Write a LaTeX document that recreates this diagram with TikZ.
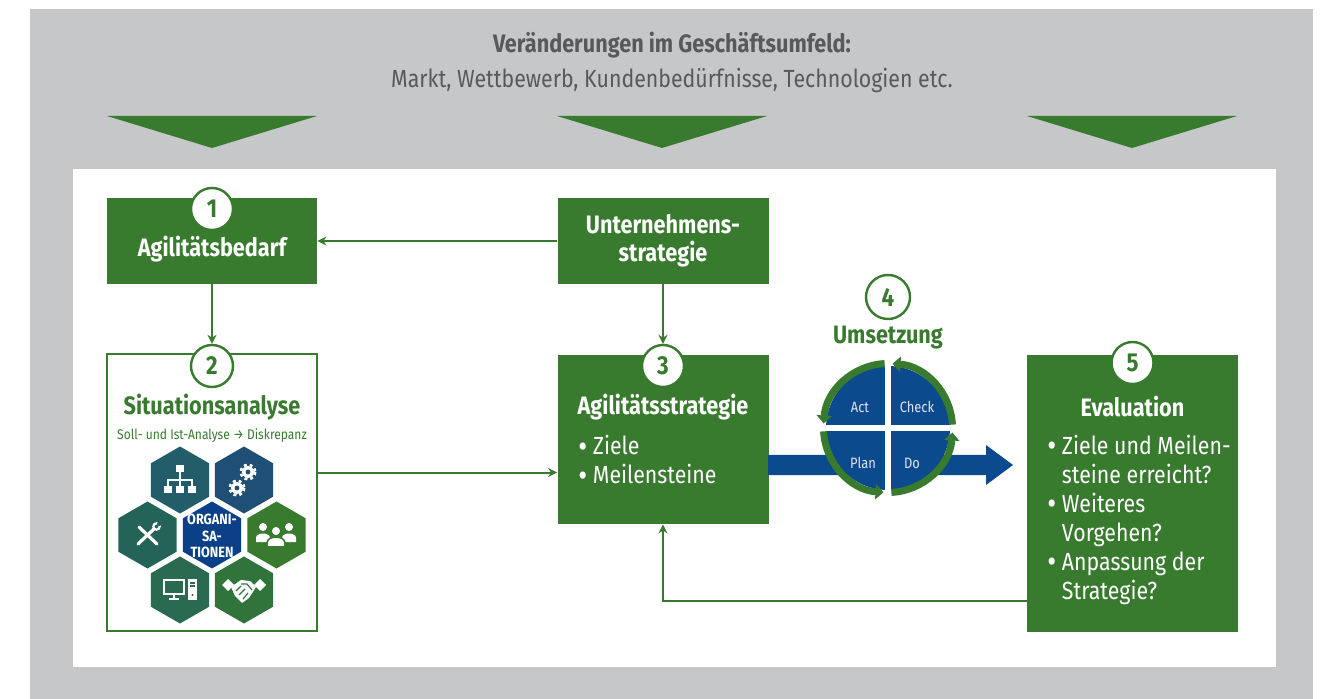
\documentclass[tikz,border=0pt]{standalone}
\usepackage{fontspec}
\setmainfont{Fira Sans}[FakeStretch=0.86]
\usetikzlibrary{arrows.meta, shapes.geometric}
\definecolor{agreen}{HTML}{387B2E}
\definecolor{agrey}{HTML}{C6C7C9}
\definecolor{atext}{HTML}{58595B}
\definecolor{pdblue}{HTML}{0B4A8C}
\definecolor{pdlight}{HTML}{DFE4F0}
\definecolor{hxorg}{HTML}{245D6A}
\definecolor{hxgear}{HTML}{1F4F74}
\definecolor{hxtool}{HTML}{246458}
\definecolor{hxmid}{HTML}{0B3F87}
\definecolor{hxteam}{HTML}{387A2E}
\definecolor{hxit}{HTML}{2A6A50}
\definecolor{hxdeal}{HTML}{30743C}
\newcommand{\bul}{\raisebox{-1.3pt}{\fontsize{16}{14.5}\selectfont•}}

\begin{document}
\begin{tikzpicture}[x = 0.5pt, y = -0.5pt,
	gbox/.style = {fill = agreen, draw = none, inner sep = 0pt},
	numc/.style = {circle, draw = agreen, line width = 1.2pt, fill = white, minimum size = 21pt, inner sep = 0pt, text = agreen, font = \bfseries\fontsize{13}{13}\selectfont},
	title/.style = {text = white, font = \bfseries\fontsize{12.6}{14}\selectfont},
	body/.style = {text = white, font = \fontsize{12.4}{14.5}\selectfont, align = left, anchor = west, inner sep = 0pt},
	conn/.style = {agreen, line width = 1pt, -{Stealth[length = 4.5pt, width = 4.5pt]}},
	hexa/.style = {regular polygon, regular polygon sides = 6, shape border rotate = 30, minimum size = 33.5pt, inner sep = 0pt, draw = none},
	ring/.style = {agreen, line width = 3.5pt, -{Triangle[length = 4pt, width = 7.5pt]}},
	pdtext/.style = {text = pdlight, font = \fontsize{7.5}{7.5}\selectfont}]
	\useasboundingbox (0, 0) rectangle (1326, 699);
	% background
	\fill[white] (0, 0) rectangle (1326, 699);
	\fill[agrey] (30, 9) rectangle (1313, 699);
	\fill[white] (73, 169) rectangle (1276, 667);
	\node[text = atext, font = \bfseries\fontsize{12.6}{14}\selectfont] (hd1) at (672, 45) {Veränderungen im Geschäftsumfeld:};
	\node[text = atext, font = \fontsize{12.4}{14}\selectfont] (hd2) at (672, 80) {Markt, Wettbewerb, Kundenbedürfnisse, Technologien etc.};
	\fill[agreen] (107, 116) -- (317, 116) -- (212, 148) -- cycle;
	\fill[agreen] (557, 116) -- (767, 116) -- (662, 148) -- cycle;
	\fill[agreen] (1027, 116) -- (1237, 116) -- (1132, 148) -- cycle;

	% boxes
	\node[gbox, minimum width = 105pt, minimum height = 43pt] (b1) at (212, 241) {};
	\node[gbox, minimum width = 105.5pt, minimum height = 43pt, align = center, title] (us) at (663, 241) {Unternehmens-\\strategie};
	\node[draw = agreen, line width = 1.2pt, fill = white, minimum width = 105pt, minimum height = 138.5pt, inner sep = 0pt] (b2) at (212, 492.5) {};
	\node[gbox, minimum width = 105.5pt, minimum height = 84.5pt] (b3) at (663, 439.5) {};
	\node[gbox, minimum width = 105.5pt, minimum height = 138.5pt] (b5) at (1132.5, 493.5) {};

	% connectors
	\draw[conn] (us.west) -- (b1.east);
	\coordinate (b3in) at ([yshift = -16.5pt]b3.west);
	\draw[conn] (b2.east |- b3in) -- (b3in);
	\coordinate (b5out) at ([yshift = -53.75pt]b5.west);
	\draw[conn] (b5out) -| (b3.south);

	\node[numc] (n1) at (212, 209) {1};
	\node[numc] (n2) at (212, 366) {2};
	\node[numc] (n3) at (663, 366) {3};
	\node[numc] (n5) at (1132.5, 363) {5};
	\draw[conn] (b1.south) -- (n2.north);
	\draw[conn] (us.south) -- (n3.north);

	% texts
	\node[title] (t1) at (212, 249) {Agilitätsbedarf};
	\node[title, text = agreen] (t2) at (212, 407) {Situationsanalyse};
	\node[text = agreen, font = \fontsize{7}{8}\selectfont] (t2s) at (212, 436) {Soll- und Ist-Analyse → Diskrepanz};
	\node[title] (t3) at (663, 407) {Agilitätsstrategie};
	\node[body] (t3b) at (578, 461) {\bul{} Ziele\\\bul{} Meilensteine};
	\node[title] (t5) at (1132.5, 406) {Evaluation};
	\node[body] (t5b) at (1047, 519.5) {\bul{} Ziele und Meilen-\\\hphantom{\bul{} }steine erreicht?\\\bul{} Weiteres\\\hphantom{\bul{} }Vorgehen?\\\bul{} Anpassung der\\\hphantom{\bul{} }Strategie?};

	% hexagons
	\node[hexa, fill = hxorg] (hx1) at (180, 480) {};
	\node[hexa, fill = hxgear] (hx2) at (244, 480) {};
	\node[hexa, fill = hxtool] (hx3) at (147.5, 535) {};
	\node[hexa, fill = hxmid] (hx4) at (212, 535) {};
	\node[hexa, fill = hxteam] (hx5) at (276.5, 535) {};
	\node[hexa, fill = hxit] (hx6) at (180, 590) {};
	\node[hexa, fill = hxdeal] (hx7) at (244, 590) {};
	\node[text = white, align = center, font = \bfseries\fontsize{7.4}{8.4}\selectfont] (hxt) at (212, 536) {ORGANI-\\SA-\\TIONEN};
	% org chart
	\fill[white] (176, 465) rectangle (184, 472);
	\draw[white, line width = 0.8pt] (180, 472) -- (180, 486) (168, 486) -- (168, 480) -- (192, 480) -- (192, 486);
	\fill[white] (164, 486) rectangle (172, 493);
	\fill[white] (176, 486) rectangle (184, 493);
	\fill[white] (188, 486) rectangle (196, 493);
	% gears
	\fill[white] (248, 472) circle (6);
	\draw[white, line width = 1.3pt, dash pattern = on 1.5pt off 1.45pt] (248, 472) circle (7.2);
	\fill[hxgear] (248, 472) circle (2.4);
	\fill[white] (237, 488) circle (6);
	\draw[white, line width = 1.3pt, dash pattern = on 1.5pt off 1.45pt] (237, 488) circle (7.2);
	\fill[hxgear] (237, 488) circle (2.4);
	% tools
	\draw[white, line width = 1.6pt, line cap = round] (139, 527) -- (157, 544);
	\draw[white, line width = 1.6pt, line cap = round] (138, 544) -- (154, 529);
	\draw[white, line width = 1.1pt] (156.5, 526.5) circle (3.2);
	\fill[hxtool] (159, 524) circle (2);
	% team
	\fill[white] (263, 527) circle (4);
	\fill[white] (289, 527) circle (4);
	\fill[white] (256, 542) -- (256, 538) .. controls (256, 532) and (270, 532) .. (270, 538) -- (270, 542) -- cycle;
	\fill[white] (282, 542) -- (282, 538) .. controls (282, 532) and (296, 532) .. (296, 538) -- (296, 542) -- cycle;
	\fill[white, draw = hxteam, line width = 0.8pt] (276, 531) circle (5);
	\fill[white, draw = hxteam, line width = 0.8pt] (267, 547) -- (267, 543) .. controls (267, 535) and (285, 535) .. (285, 543) -- (285, 547) -- cycle;
	% computer
	\draw[white, line width = 1.2pt] (164, 580) rectangle (184, 594);
	\draw[white, line width = 1.2pt] (174, 594) -- (174, 599) (169, 599) -- (179, 599);
	\fill[white] (188, 579) rectangle (197, 600);
	\draw[hxit, line width = 0.6pt] (190, 583) -- (195, 583) (190, 586) -- (195, 586);
	\fill[hxit] (192.5, 595) circle (1.2);
	% handshake
	\fill[white] (222, 585) -- (228, 579) -- (234, 585) -- (228, 591) -- cycle;
	\fill[white] (266, 585) -- (260, 579) -- (254, 585) -- (260, 591) -- cycle;
	\fill[white] (231, 587) -- (241, 580) -- (250, 581) -- (256, 587) -- (249, 598) -- (242, 603) -- (235, 596) -- cycle;
	\draw[hxdeal, line width = 0.6pt] (236, 591) -- (241, 586) (239, 595) -- (245, 589) (243, 599) -- (248, 593) (241, 584) -- (247, 584) -- (252, 590);

	% PDCA
	\fill[pdblue] (768, 455) -- (986, 455) -- (986, 445) -- (1013, 465) -- (986, 485) -- (986, 475) -- (768, 475) -- cycle;
	\fill[pdblue] (888, 428) circle (62);
	\draw[white, line width = 3pt] (888, 358) -- (888, 498);
	\draw[white, line width = 3pt] (818, 428) -- (958, 428);
	\draw[ring] (888, 428) ++(-183:64.5) arc[start angle = -183, end angle = -266, radius = 64.5];
	\draw[ring] (888, 428) ++(-273:64.5) arc[start angle = -273, end angle = -356, radius = 64.5];
	\draw[ring] (888, 428) ++(-3:64.5) arc[start angle = -3, end angle = -86, radius = 64.5];
	\draw[ring] (888, 428) ++(-93:64.5) arc[start angle = -93, end angle = -176, radius = 64.5];
	\node[pdtext] (pa) at (860, 407) {Act};
	\node[pdtext] (pc) at (917, 407) {Check};
	\node[pdtext] (pp) at (863, 463) {Plan};
	\node[pdtext] (pd) at (912, 463) {Do};
	\node[numc, minimum size = 22pt] (n4) at (888, 297) {4};
	\node[title, text = agreen] (t4) at (888, 338) {Umsetzung};
\end{tikzpicture}
\end{document}
